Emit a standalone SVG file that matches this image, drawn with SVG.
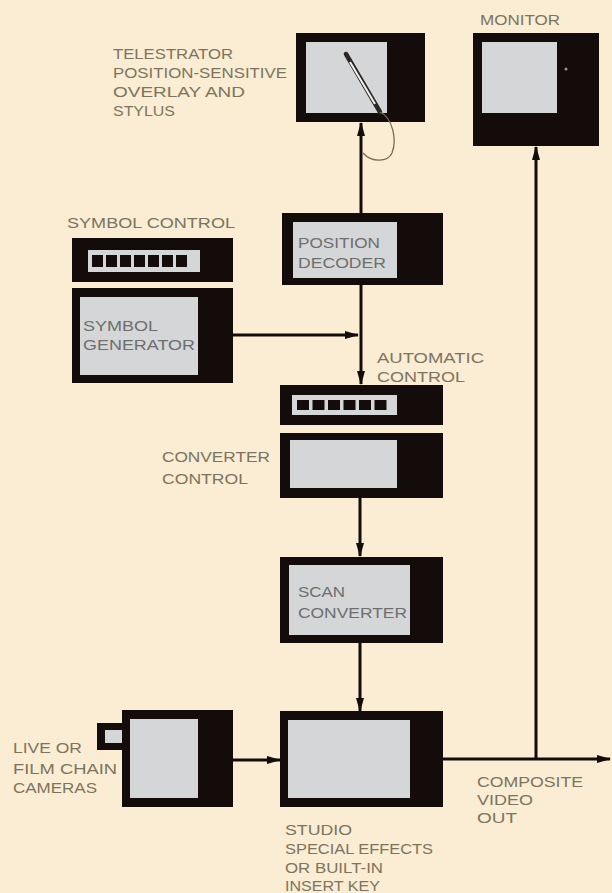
<svg xmlns="http://www.w3.org/2000/svg" width="612" height="893" viewBox="0 0 612 893">
  <defs>
    <marker id="arr" viewBox="0 0 14 8" refX="13" refY="4" markerWidth="14" markerHeight="8" markerUnits="userSpaceOnUse" orient="auto">
      <path d="M0,0 L14,4 L0,8 Z" fill="#140c0a"/>
    </marker>
  </defs>
  <style>
    .frame { fill: #140c0a; }
    .screen { fill: #d5d6d7; }
    .key { fill: #140c0a; }
    .lbl { font-family: "Liberation Sans", Arial, sans-serif; font-size: 15.5px; fill: #7d745f; }
    .in { font-family: "Liberation Sans", Arial, sans-serif; font-size: 15.5px; fill: #6e6e6e; }
    .wire { stroke: #140c0a; stroke-width: 3; fill: none; }
  </style>

  <rect width="612" height="893" fill="#faedd3"/>

  <!-- connectors -->
  <g id="connectors">
    <line class="wire" x1="361" y1="213" x2="361" y2="123" marker-end="url(#arr)"/>
    <line class="wire" x1="361" y1="285" x2="361" y2="384" marker-end="url(#arr)"/>
    <line class="wire" x1="233" y1="335" x2="358" y2="335" marker-end="url(#arr)"/>
    <line class="wire" x1="360" y1="498" x2="360" y2="556" marker-end="url(#arr)"/>
    <line class="wire" x1="360" y1="643" x2="360" y2="711" marker-end="url(#arr)"/>
    <line class="wire" x1="233" y1="760" x2="280" y2="760" marker-end="url(#arr)"/>
    <line class="wire" x1="443" y1="759" x2="610" y2="759" marker-end="url(#arr)"/>
    <line class="wire" x1="536" y1="760" x2="536" y2="147" marker-end="url(#arr)"/>
  </g>

  <!-- telestrator overlay with stylus -->
  <g id="telestrator">
    <rect class="frame" x="296" y="33" width="129" height="89"/>
    <rect class="screen" x="306" y="42" width="81" height="71"/>
    <line x1="346" y1="54" x2="380" y2="112" stroke="#2a2624" stroke-width="4.5" stroke-linecap="round"/>
    <line x1="350" y1="62" x2="375" y2="104" stroke="#f2f2f2" stroke-width="2"/>
    <path d="M380,112 C393,118 397,140 392,153 C388,162 372,163 363,153" fill="none" stroke="#7a6a55" stroke-width="1.3"/>
    <text class="lbl" x="113" y="59" textLength="120" lengthAdjust="spacingAndGlyphs">TELESTRATOR</text>
    <text class="lbl" x="113" y="78" textLength="174" lengthAdjust="spacingAndGlyphs">POSITION-SENSITIVE</text>
    <text class="lbl" x="113" y="97" textLength="132" lengthAdjust="spacingAndGlyphs">OVERLAY AND</text>
    <text class="lbl" x="113" y="116" textLength="62" lengthAdjust="spacingAndGlyphs">STYLUS</text>
  </g>

  <!-- monitor -->
  <g id="monitor">
    <rect class="frame" x="473" y="33" width="126" height="113"/>
    <rect class="screen" x="482" y="42" width="75" height="71"/>
    <circle cx="566" cy="69" r="1.5" fill="#9a9a9a"/>
    <text class="lbl" x="480" y="25" textLength="80" lengthAdjust="spacingAndGlyphs">MONITOR</text>
  </g>

  <!-- symbol control keypad -->
  <g id="symbol-control">
    <rect class="frame" x="72" y="238" width="161" height="44"/>
    <rect class="screen" x="88" y="250" width="112" height="22"/>
    <rect class="key" x="92" y="255" width="11" height="12"/>
    <rect class="key" x="106" y="255" width="11" height="12"/>
    <rect class="key" x="120" y="255" width="11" height="12"/>
    <rect class="key" x="134" y="255" width="11" height="12"/>
    <rect class="key" x="148" y="255" width="11" height="12"/>
    <rect class="key" x="162" y="255" width="11" height="12"/>
    <rect class="key" x="176" y="255" width="11" height="12"/>
    <text class="lbl" x="67" y="228" textLength="168" lengthAdjust="spacingAndGlyphs">SYMBOL CONTROL</text>
  </g>

  <!-- symbol generator -->
  <g id="symbol-generator">
    <rect class="frame" x="72" y="288" width="161" height="95"/>
    <rect class="screen" x="80" y="297" width="118" height="78"/>
    <text class="in" x="83" y="331" textLength="75" lengthAdjust="spacingAndGlyphs">SYMBOL</text>
    <text class="in" x="83" y="350" textLength="112" lengthAdjust="spacingAndGlyphs">GENERATOR</text>
  </g>

  <!-- position decoder -->
  <g id="position-decoder">
    <rect class="frame" x="282" y="213" width="161" height="72"/>
    <rect class="screen" x="293" y="222" width="104" height="56"/>
    <text class="in" x="298" y="248" textLength="82" lengthAdjust="spacingAndGlyphs">POSITION</text>
    <text class="in" x="298" y="268" textLength="88" lengthAdjust="spacingAndGlyphs">DECODER</text>
  </g>

  <text class="lbl" x="377" y="363" textLength="107" lengthAdjust="spacingAndGlyphs">AUTOMATIC</text>
  <text class="lbl" x="377" y="382" textLength="88" lengthAdjust="spacingAndGlyphs">CONTROL</text>

  <!-- converter control: keypad and unit -->
  <g id="converter-control">
    <rect class="frame" x="280" y="385" width="163" height="40"/>
    <rect class="screen" x="292" y="395" width="105" height="20"/>
    <rect class="key" x="297" y="400" width="12" height="10"/>
    <rect class="key" x="312.5" y="400" width="12" height="10"/>
    <rect class="key" x="328" y="400" width="12" height="10"/>
    <rect class="key" x="343.5" y="400" width="12" height="10"/>
    <rect class="key" x="359" y="400" width="12" height="10"/>
    <rect class="key" x="374.5" y="400" width="12" height="10"/>
    <rect class="frame" x="280" y="433" width="163" height="65"/>
    <rect class="screen" x="290" y="440" width="107" height="48"/>
    <text class="lbl" x="162" y="462" textLength="108" lengthAdjust="spacingAndGlyphs">CONVERTER</text>
    <text class="lbl" x="162" y="484" textLength="86" lengthAdjust="spacingAndGlyphs">CONTROL</text>
  </g>

  <!-- scan converter -->
  <g id="scan-converter">
    <rect class="frame" x="280" y="557" width="163" height="86"/>
    <rect class="screen" x="289" y="565" width="121" height="70"/>
    <text class="in" x="298" y="597" textLength="47" lengthAdjust="spacingAndGlyphs">SCAN</text>
    <text class="in" x="298" y="618" textLength="109" lengthAdjust="spacingAndGlyphs">CONVERTER</text>
  </g>

  <!-- cameras -->
  <g id="cameras">
    <rect class="frame" x="97" y="723" width="28" height="27"/>
    <rect class="screen" x="105" y="730" width="18" height="13"/>
    <rect class="frame" x="122" y="710" width="111" height="97"/>
    <rect class="screen" x="130" y="719" width="68" height="79"/>
    <text class="lbl" x="13" y="753" textLength="69" lengthAdjust="spacingAndGlyphs">LIVE OR</text>
    <text class="lbl" x="13" y="774" textLength="104" lengthAdjust="spacingAndGlyphs">FILM CHAIN</text>
    <text class="lbl" x="13" y="793" textLength="84" lengthAdjust="spacingAndGlyphs">CAMERAS</text>
  </g>

  <!-- studio special effects -->
  <g id="studio-effects">
    <rect class="frame" x="280" y="711" width="163" height="96"/>
    <rect class="screen" x="288" y="720" width="122" height="78"/>
    <text class="lbl" x="285" y="835" textLength="67" lengthAdjust="spacingAndGlyphs">STUDIO</text>
    <text class="lbl" x="285" y="854" textLength="148" lengthAdjust="spacingAndGlyphs">SPECIAL EFFECTS</text>
    <text class="lbl" x="285" y="873" textLength="98" lengthAdjust="spacingAndGlyphs">OR BUILT-IN</text>
    <text class="lbl" x="285" y="891" textLength="95" lengthAdjust="spacingAndGlyphs">INSERT KEY</text>
  </g>

  <!-- composite output label -->
  <g id="composite-out">
    <text class="lbl" x="477" y="787" textLength="106" lengthAdjust="spacingAndGlyphs">COMPOSITE</text>
    <text class="lbl" x="477" y="805" textLength="56" lengthAdjust="spacingAndGlyphs">VIDEO</text>
    <text class="lbl" x="477" y="823" textLength="40" lengthAdjust="spacingAndGlyphs">OUT</text>
  </g>
</svg>
